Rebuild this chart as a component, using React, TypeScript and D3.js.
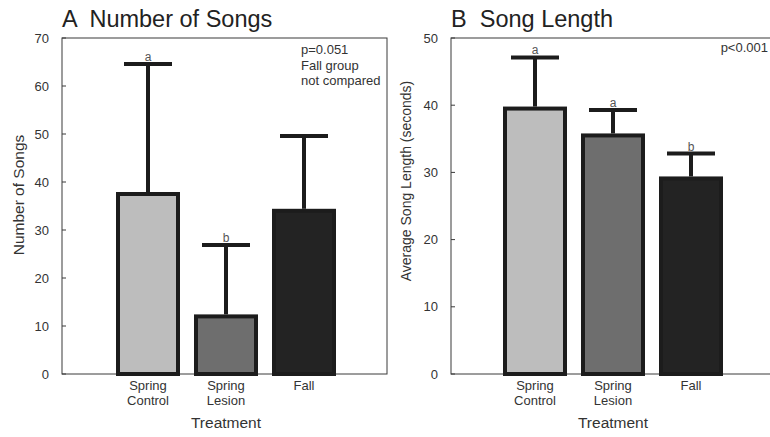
import React, { useEffect, useRef } from 'react';
import * as d3 from 'd3';

const treatments = ['Spring Control', 'Spring Lesion', 'Fall'];
const treatmentLines = [['Spring', 'Control'], ['Spring', 'Lesion'], ['Fall']];
const barColors = ['#bdbdbd', '#6e6e6e', '#232323'];

const songCount = [37.5, 12, 34];
const songCountErr = [64.6, 26.9, 49.6];
const songCountLetters = ['a', 'b', ''];
const songCountTicks = [0, 10, 20, 30, 40, 50, 60, 70];

const songLength = [39.5, 35.5, 29.1];
const songLengthErr = [47.1, 39.3, 32.8];
const songLengthLetters = ['a', 'a', 'b'];
const songLengthTicks = [0, 10, 20, 30, 40, 50];

const FONT = 'Liberation Sans, Arial, sans-serif';

const drawPanel = (svg, cfg) => {
    const { left, right, top, bottom, max, bandRange, values, errs, letters, ticks, title,
        yLabel, yLabelX, yLabelY, yLabelSize, notes, notesX, notesY, notesAnchor } = cfg;

    const y = d3.scaleLinear().domain([0, max]).range([bottom, top]);
    const x = d3.scaleBand()
        .domain(treatments)
        .range(bandRange)
        .paddingInner(18 / 78)
        .paddingOuter(9 / 78);

    const g = svg.append('g');

    // frame
    g.append('rect')
        .attr('x', left).attr('y', top)
        .attr('width', right - left).attr('height', bottom - top)
        .attr('fill', 'none').attr('stroke', '#3a3a3a').attr('stroke-width', 1);

    // y ticks
    const tk = g.selectAll('.tick').data(ticks).join('g');
    tk.append('line')
        .attr('x1', left).attr('x2', left + 4)
        .attr('y1', d => y(d)).attr('y2', d => y(d))
        .attr('stroke', '#3a3a3a');
    tk.append('text')
        .attr('x', left - 13).attr('y', d => y(d))
        .attr('dy', '0.35em')
        .attr('text-anchor', 'end')
        .attr('font-size', 13).attr('font-family', FONT).attr('fill', '#333')
        .text(d => d);

    // bars
    const bars = g.selectAll('.bar').data(treatments).join('g');
    bars.append('rect')
        .attr('x', d => x(d))
        .attr('y', (d, i) => y(values[i]))
        .attr('width', x.bandwidth())
        .attr('height', (d, i) => bottom - y(values[i]))
        .attr('fill', (d, i) => barColors[i])
        .attr('stroke', '#1c1c1c').attr('stroke-width', 4);

    // error bars
    bars.append('line')
        .attr('x1', d => x(d) + x.bandwidth() / 2).attr('x2', d => x(d) + x.bandwidth() / 2)
        .attr('y1', (d, i) => y(values[i]) - 2).attr('y2', (d, i) => y(errs[i]))
        .attr('stroke', '#1c1c1c').attr('stroke-width', 4);
    bars.append('line')
        .attr('x1', d => x(d) + x.bandwidth() / 2 - 24).attr('x2', d => x(d) + x.bandwidth() / 2 + 24)
        .attr('y1', (d, i) => y(errs[i])).attr('y2', (d, i) => y(errs[i]))
        .attr('stroke', '#1c1c1c').attr('stroke-width', 4);
    bars.append('text')
        .attr('x', d => x(d) + x.bandwidth() / 2)
        .attr('y', (d, i) => y(errs[i]) - 3)
        .attr('text-anchor', 'middle')
        .attr('font-size', 12).attr('font-family', FONT).attr('fill', '#555')
        .text((d, i) => letters[i]);

    // x labels
    const xl = g.selectAll('.xl').data(treatments).join('text')
        .attr('x', d => x(d) + x.bandwidth() / 2)
        .attr('y', 390)
        .attr('text-anchor', 'middle')
        .attr('font-size', 13).attr('font-family', FONT).attr('fill', '#333');
    xl.selectAll('tspan').data((d, i) => treatmentLines[i]).join('tspan')
        .attr('x', function () { return d3.select(this.parentNode).attr('x'); })
        .attr('dy', (d, i) => (i === 0 ? 0 : 15))
        .text(d => d);

    g.append('text')
        .attr('x', x(treatments[1]) + x.bandwidth() / 2).attr('y', 428)
        .attr('text-anchor', 'middle')
        .attr('font-size', 15.5).attr('font-family', FONT).attr('fill', '#333')
        .text('Treatment');

    g.append('text')
        .attr('transform', `translate(${yLabelX},${yLabelY}) rotate(-90)`)
        .attr('text-anchor', 'middle')
        .attr('font-size', yLabelSize).attr('font-family', FONT).attr('fill', '#333')
        .text(yLabel);

    g.append('text')
        .attr('x', left).attr('y', 27)
        .attr('font-size', 23.5).attr('font-family', FONT).attr('fill', '#222')
        .attr('xml:space', 'preserve')
        .text(title);

    g.selectAll('.note').data(notes).join('text')
        .attr('x', notesX).attr('y', (d, i) => notesY + i * 15.5)
        .attr('text-anchor', notesAnchor)
        .attr('font-size', 13).attr('font-family', FONT).attr('fill', '#333')
        .text(d => d);
};

const App = () => {
    const ref = useRef();

    useEffect(() => {
        const svg = d3.select(ref.current);
        svg.selectAll('*').remove();

        drawPanel(svg, {
            left: 62, right: 387, top: 38, bottom: 374, max: 70,
            bandRange: [109, 343],
            values: songCount, errs: songCountErr, letters: songCountLetters,
            ticks: songCountTicks,
            title: 'A  Number of Songs',
            yLabel: 'Number of Songs', yLabelX: 24, yLabelY: 195, yLabelSize: 15.5,
            notes: ['p=0.051', 'Fall group', 'not compared'], notesX: 301, notesY: 54, notesAnchor: 'start'
        });

        drawPanel(svg, {
            left: 451, right: 775, top: 38, bottom: 374, max: 50,
            bandRange: [496, 730],
            values: songLength, errs: songLengthErr, letters: songLengthLetters,
            ticks: songLengthTicks,
            title: 'B  Song Length',
            yLabel: 'Average Song Length (seconds)', yLabelX: 411, yLabelY: 181, yLabelSize: 14,
            notes: ['p<0.001'], notesX: 768, notesY: 52, notesAnchor: 'end'
        });
    }, []);

    return (
        <svg ref={ref} width={770} height={437}
            style={{ position: 'absolute', left: 0, top: 0, background: '#fff' }} />
    );
};

export default App;
